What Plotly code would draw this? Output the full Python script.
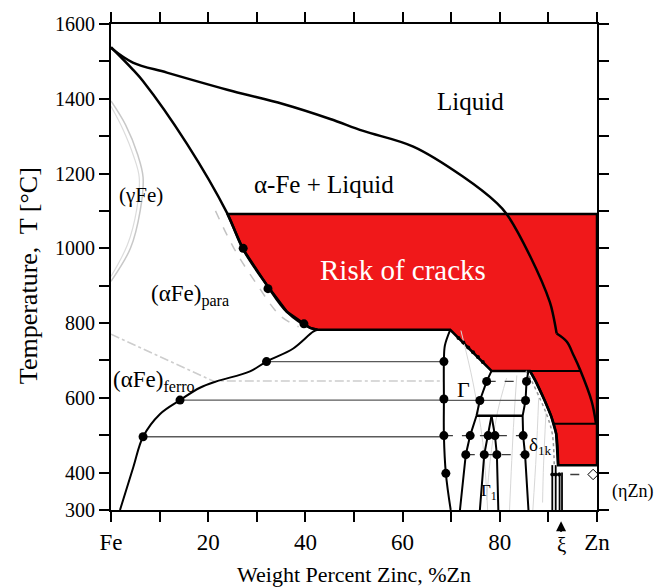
import plotly.graph_objects as go

# ---------------- data (wt.% Zn, temperature °C) ----------------
liquidus_x = [0, 4.5, 11.5, 25.1, 35.4, 45.1, 51.9, 62.2, 72.4, 79.4, 81.4, 86.2, 90.3, 91.0, 91.7]
liquidus_t = [1536, 1497, 1470, 1420, 1386, 1346, 1314, 1272, 1192, 1121, 1092, 980, 856, 820, 772]
liquidus_low_x = [91.7, 93.8, 95.1, 96.5, 98.9, 99.8]
liquidus_low_t = [772, 750, 716, 676, 591, 530]

solidus_x = [0, 4.5, 6.6, 15.6, 23.9, 27.2, 32.1, 36.2, 41.0, 42.5]
solidus_t = [1538, 1478, 1447, 1280, 1094, 997, 901, 830, 787, 782]

ferro_x = [1.85, 4.6, 6.6, 10.1, 14.2, 18.3, 21.7, 28.6, 32.0, 37.5, 41.6, 42.5]
ferro_t = [300, 415, 496, 557, 594, 627, 644, 671, 697, 732, 777, 782]

gamma_left_x = [69.8, 68.7, 68.5, 68.5, 68.5, 68.9, 69.9]
gamma_left_t = [782, 740, 697, 597, 499, 398, 300]

gamma_right_x = [78.3, 77.3, 75.9, 75.2, 73.9, 73.0, 71.8]
gamma_right_t = [672, 644, 593, 552, 499, 448, 300]

delta_left_x = [85.9, 85.5, 85.3, 84.7, 84.8, 85.2, 85.9]
delta_left_t = [672, 644, 593, 552, 499, 448, 300]

gamma1_left_x = [78.3, 77.6, 76.8, 75.9]
gamma1_left_t = [552, 499, 448, 300]
gamma1_right_x = [78.3, 79.0, 79.4, 79.7]
gamma1_right_t = [552, 499, 448, 300]
gamma1_top_x = [75.2, 84.7]
gamma1_top_t = [552, 552]

delta_edge_x = [86.2, 87.4, 89.3, 90.6, 91.6, 92.0]
delta_edge_t = [672, 644, 591, 550, 504, 420]

crack_top_t = 1092
gamma_peritectic_t = 782
delta_peritectic_t = 672
zeta_peritectic_t = 531
zn_solid_t = 420
eutectoid_t = 395
eta_zn_t = 349

# region of crack risk (built from the phase boundaries above)
red_x = ([23.9, 100, 100] + [92.0] + delta_edge_x[::-1] + [78.3, 69.8, 42.5]
         + [41.0, 36.2, 32.1, 27.2, 23.9])
red_t = ([crack_top_t, crack_top_t, zn_solid_t] + [zn_solid_t] + delta_edge_t[::-1]
         + [delta_peritectic_t, gamma_peritectic_t, gamma_peritectic_t]
         + [787, 830, 901, 997, 1094])

dots_x = [27.2, 32.3, 39.7, 6.6, 14.2, 32.0, 68.5, 68.5, 68.5, 68.9, 77.3, 75.9, 73.9, 73.0,
          85.5, 85.3, 84.8, 85.2, 77.6, 76.8, 79.0, 79.4]
dots_t = [1000, 892, 798, 496, 594, 697, 697, 597, 499, 398, 644, 593, 499, 448,
          644, 593, 499, 448, 499, 448, 499, 448]

small_dots_x = [71.5, 72.5, 73.5, 74.5, 75.5, 76.5, 90.8, 91.5, 92.2]
small_dots_t = [760, 748, 735, 722, 709, 696, 395, 395, 395]

tie_solid = [(32.0, 68.5, 697), (14.2, 68.5, 594), (6.6, 68.5, 496), (68.5, 85.3, 593)]
tie_dashed = [(77.3, 85.5, 644), (68.5, 84.8, 499), (73.0, 85.2, 448)]

curie_x = [0, 21, 68.5]
curie_t = [770, 645, 645]

gloop1_x = [0, 3.0, 5.5, 6.6, 6.0, 4.0, 0]
gloop1_t = [1394, 1330, 1250, 1190, 1100, 1000, 912]
gloop2_x = [0, 2.4, 4.7, 5.8, 5.3, 3.4, 0]
gloop2_t = [1380, 1320, 1245, 1190, 1105, 1010, 925]

para_x = [21.5, 25.3, 30.2, 34.8, 38.6]
para_t = [1100, 1000, 900, 820, 790]

zeta_lines = [(90.8, 420, 300), (91.5, 420, 300), (92.3, 400, 300), (92.8, 400, 300)]

faint_lines = [([72.0, 74.5, 76.5, 77.5], [780, 640, 480, 300]),
               ([81.4, 79.5, 78.0, 77.3], [653, 560, 430, 327]),
               ([83.5, 82.8, 82.0], [660, 520, 300]),
               ([88.0, 87.5, 86.8], [600, 450, 300]),
               ([89.5, 89.0, 88.8], [560, 420, 320])]

x_ticks = [0, 10, 20, 30, 40, 50, 60, 70, 80, 90, 100]
x_labels = ["Fe", "", "20", "", "40", "", "60", "", "80", "", "Zn"]
y_ticks = [300, 400, 500, 600, 700, 800, 900, 1000, 1100, 1200, 1300, 1400, 1500, 1600]
y_labels = ["300", "400", "", "600", "", "800", "", "1000", "", "1200", "", "1400", "", "1600"]

SERIF = "Liberation Serif"
RED = "rgb(240,24,26)"

fig = go.Figure()

def line(x, y, color="black", width=2, dash="solid", shape="linear", **kw):
    fig.add_trace(go.Scatter(x=x, y=y, mode="lines",
                             line=dict(color=color, width=width, dash=dash, shape=shape, smoothing=1.0),
                             hoverinfo="skip", showlegend=False, **kw))

# red crack-risk region
fig.add_trace(go.Scatter(x=red_x, y=red_t, mode="lines", fill="toself", fillcolor=RED,
                         line=dict(color="black", width=2.5), hoverinfo="skip", showlegend=False))

# faint background lines
line(gloop1_x, gloop1_t, color="rgb(200,200,200)", width=1.5, shape="spline")
line(gloop2_x, gloop2_t, color="rgb(220,220,220)", width=1.2, shape="spline")
line(para_x, para_t, color="rgb(195,195,195)", width=1.5, dash="dash", shape="spline")
line(curie_x, curie_t, color="rgb(205,205,205)", width=1.5, dash="dashdot")
for fx, ft in faint_lines:
    line(fx, ft, color="rgb(215,215,215)", width=1, shape="spline")
line([dx - 0.8 for dx in delta_edge_x], delta_edge_t, color="rgb(150,150,150)", width=1.5, dash="dot",
     shape="spline")

# tie lines
for a, b, t in tie_solid:
    line([a, b], [t, t], color="rgb(90,90,90)", width=1.3)
for a, b, t in tie_dashed:
    line([a, b], [t, t], color="rgb(60,60,60)", width=1.3, dash="dash")

# main boundaries
line(liquidus_x, liquidus_t, width=2.5, shape="spline")
line(liquidus_low_x, liquidus_low_t, width=2.5, shape="spline")
line(solidus_x, solidus_t, width=2.5, shape="spline")
line(ferro_x, ferro_t, width=2, shape="spline")
line(gamma_left_x, gamma_left_t, width=2, shape="spline")
line(gamma_right_x, gamma_right_t, width=2)
line(delta_left_x, delta_left_t, width=2)
line(gamma1_left_x, gamma1_left_t, width=2)
line(gamma1_right_x, gamma1_right_t, width=2)
line(gamma1_top_x, gamma1_top_t, width=2.5)
line(delta_edge_x, delta_edge_t, width=2.5, shape="spline")
line([86.2, 96.5], [delta_peritectic_t, delta_peritectic_t], width=2)
line([91.2, 100], [zeta_peritectic_t, zeta_peritectic_t], width=2)
for zx, t0, t1 in zeta_lines:
    line([zx, zx], [t0, t1], width=1.8)
line([90.8, 99.2], [eutectoid_t, eutectoid_t], color="rgb(60,60,60)", width=1.3, dash="dash")

# dots
fig.add_trace(go.Scatter(x=dots_x, y=dots_t, mode="markers", marker=dict(color="black", size=9),
                         hoverinfo="skip", showlegend=False))
fig.add_trace(go.Scatter(x=small_dots_x, y=small_dots_t, mode="markers", marker=dict(color="black", size=4),
                         hoverinfo="skip", showlegend=False))
fig.add_trace(go.Scatter(x=[99.2], y=[eutectoid_t], mode="markers",
                         marker=dict(color="white", size=8, symbol="diamond", line=dict(color="black", width=1)),
                         hoverinfo="skip", showlegend=False))
# (ηZn) pointer
fig.add_trace(go.Scatter(x=[101.3], y=[eta_zn_t], mode="markers", cliponaxis=False,
                         marker=dict(color="black", size=8, symbol="triangle-left"),
                         hoverinfo="skip", showlegend=False))

labels = [
    ("Liquid", 73.9, 1394, 25, "black"),
    ("α-Fe + Liquid", 43.8, 1171, 25, "black"),
    ("Risk of cracks", 60.1, 943, 29, "white"),
    ("(γFe)", 6.1, 1142, 21, "black"),
    ("(αFe)<sub>para</sub>", 16.2, 875, 23, "black"),
    ("(αFe)<sub>ferro</sub>", 8.9, 644, 23, "black"),
    ("Γ", 72.5, 622, 22, "black"),
    ("Γ<sub>1</sub>", 77.8, 349, 17, "black"),
    ("δ<sub>1k</sub>", 88.4, 470, 19, "black"),
]
for txt, x, y, s, c in labels:
    fig.add_annotation(x=x, y=y, text=txt, showarrow=False, font=dict(family=SERIF, size=s, color=c))

fig.add_annotation(x=1.0, xref="paper", xanchor="left", xshift=13, y=eta_zn_t, yref="y",
                   text="(ηZn)", showarrow=False, font=dict(family=SERIF, size=18, color="black"))
fig.add_annotation(x=92.6, y=-0.023, xref="x", yref="paper", text="ξ", showarrow=True,
                   ax=0, ay=24, arrowhead=2, arrowsize=1, arrowwidth=2, arrowcolor="black",
                   font=dict(family=SERIF, size=21, color="black"))

fig.add_annotation(x=0.5, y=-0.133, xref="paper", yref="paper", text="Weight Percent Zinc, %Zn",
                   showarrow=False, font=dict(family=SERIF, size=22, color="black"), yanchor="middle")
fig.add_annotation(x=-0.171, y=0.483, xref="paper", yref="paper", text="Temperature,  T [°C]",
                   textangle=-90, showarrow=False, font=dict(family=SERIF, size=26, color="black"),
                   xanchor="center", yanchor="middle")

fig.update_xaxes(range=[0, 100], tickvals=x_ticks, ticktext=x_labels, ticks="outside", ticklen=10,
                 tickwidth=2, tickcolor="black", showline=True, linecolor="black", linewidth=2,
                 mirror="ticks", showgrid=False, zeroline=False,
                 tickfont=dict(family=SERIF, size=23, color="black"))
fig.update_yaxes(range=[300, 1600], tickvals=y_ticks, ticktext=y_labels, ticks="outside", ticklen=10,
                 tickwidth=2, tickcolor="black", showline=True, linecolor="black", linewidth=2,
                 mirror="ticks", showgrid=False, zeroline=False,
                 tickfont=dict(family=SERIF, size=20, color="black"))

fig.update_layout(width=654, height=587, margin=dict(l=111, r=57, t=19, b=77),
                  plot_bgcolor="white", paper_bgcolor="white", showlegend=False)

fig.write_html("out.html")
